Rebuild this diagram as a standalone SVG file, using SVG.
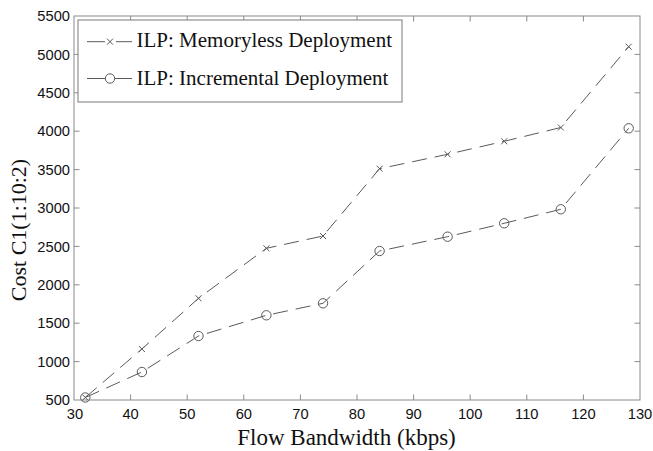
<svg xmlns="http://www.w3.org/2000/svg" width="653" height="451" viewBox="0 0 653 451">
  <style>
    .frame { fill: none; stroke: #8a8a8a; stroke-width: 1; }
    .tick { stroke: #8a8a8a; stroke-width: 1; }
    .tl { font-family: "Liberation Sans", Arial, sans-serif; font-size: 14.7px; fill: #111; }
    .al { font-family: "Liberation Serif", "Times New Roman", serif; fill: #111; }
    .series { fill: none; stroke: #5a5a5a; stroke-width: 1; stroke-dasharray: 15 8; }
    .solid { fill: none; stroke: #5a5a5a; stroke-width: 1; }
    .mk { fill: none; stroke: #5a5a5a; stroke-width: 1; }
  </style>
  <defs>
    <g id="xmark"><path d="M-3,-3 L3,3 M-3,3 L3,-3" class="mk"/></g>
    <circle id="omark" r="4.7" class="mk"/>
  </defs>
  <rect width="653" height="451" fill="#fff"/>

  <!-- axes frame and ticks -->
  <g id="axes">
    <rect class="frame" x="74" y="16" width="566" height="384"/>
    <g id="x-ticks">
      <path class="tick" d="M130.6,400v-5.5M187.2,400v-5.5M243.8,400v-5.5M300.4,400v-5.5M357,400v-5.5M413.6,400v-5.5M470.2,400v-5.5M526.8,400v-5.5M583.4,400v-5.5
                           M130.6,16v5.5M187.2,16v5.5M243.8,16v5.5M300.4,16v5.5M357,16v5.5M413.6,16v5.5M470.2,16v5.5M526.8,16v5.5M583.4,16v5.5"/>
    </g>
    <g id="y-ticks">
      <path class="tick" d="M74,361.6h5.5M74,323.2h5.5M74,284.8h5.5M74,246.4h5.5M74,208h5.5M74,169.6h5.5M74,131.2h5.5M74,92.8h5.5M74,54.4h5.5
                           M640,361.6h-5.5M640,323.2h-5.5M640,284.8h-5.5M640,246.4h-5.5M640,208h-5.5M640,169.6h-5.5M640,131.2h-5.5M640,92.8h-5.5M640,54.4h-5.5"/>
    </g>
    <g id="x-labels" class="tl" text-anchor="middle">
      <text x="75" y="418.5">30</text>
      <text x="130.6" y="418.5">40</text>
      <text x="187.2" y="418.5">50</text>
      <text x="243.8" y="418.5">60</text>
      <text x="300.4" y="418.5">70</text>
      <text x="357" y="418.5">80</text>
      <text x="413.6" y="418.5">90</text>
      <text x="470.2" y="418.5">100</text>
      <text x="526.8" y="418.5">110</text>
      <text x="583.4" y="418.5">120</text>
      <text x="640" y="418.5">130</text>
    </g>
    <g id="y-labels" class="tl" text-anchor="end">
      <text x="70" y="405.2">500</text>
      <text x="70" y="366.8">1000</text>
      <text x="70" y="328.4">1500</text>
      <text x="70" y="290">2000</text>
      <text x="70" y="251.6">2500</text>
      <text x="70" y="213.2">3000</text>
      <text x="70" y="174.8">3500</text>
      <text x="70" y="136.4">4000</text>
      <text x="70" y="98">4500</text>
      <text x="70" y="59.6">5000</text>
      <text x="70" y="21.2">5500</text>
    </g>
    <text id="x-title" class="al" font-size="23" x="346.5" y="445" text-anchor="middle">Flow Bandwidth (kbps)</text>
    <text id="y-title" class="al" font-size="22" text-anchor="middle" transform="translate(26,230) rotate(-90)">Cost C1(1:10:2)</text>
  </g>

  <!-- data series -->
  <g id="connectors">
    <polyline id="memoryless-line" class="series" points="85.3,397.5 141.9,349 198.5,298.3 266.4,248.3 323,236 379.6,168.7 447.6,154.3 504.2,141.3 560.8,127.5 628.7,46.7"/>
    <polyline id="incremental-line" class="series" points="85.3,397.5 141.9,372 198.5,336 266.4,315.3 323,303.3 379.6,251 447.6,236.7 504.2,223.3 560.8,209.3 628.7,128.3"/>
  </g>
  <g id="memoryless-markers">
    <use href="#xmark" x="85.3" y="397.5"/>
    <use href="#xmark" x="141.9" y="349"/>
    <use href="#xmark" x="198.5" y="298.3"/>
    <use href="#xmark" x="266.4" y="248.3"/>
    <use href="#xmark" x="323" y="236"/>
    <use href="#xmark" x="379.6" y="168.7"/>
    <use href="#xmark" x="447.6" y="154.3"/>
    <use href="#xmark" x="504.2" y="141.3"/>
    <use href="#xmark" x="560.8" y="127.5"/>
    <use href="#xmark" x="628.7" y="46.7"/>
  </g>
  <g id="incremental-markers">
    <use href="#omark" x="85.3" y="397.5"/>
    <use href="#omark" x="141.9" y="372"/>
    <use href="#omark" x="198.5" y="336"/>
    <use href="#omark" x="266.4" y="315.3"/>
    <use href="#omark" x="323" y="303.3"/>
    <use href="#omark" x="379.6" y="251"/>
    <use href="#omark" x="447.6" y="236.7"/>
    <use href="#omark" x="504.2" y="223.3"/>
    <use href="#omark" x="560.8" y="209.3"/>
    <use href="#omark" x="628.7" y="128.3"/>
  </g>

  <!-- legend -->
  <g id="legend">
    <rect x="78" y="20" width="324" height="82" fill="#fff" stroke="#7a7a7a" stroke-width="1"/>
    <path class="solid" d="M87,41.7H105M116,41.7H132"/>
    <use href="#xmark" x="110" y="41.7"/>
    <text class="al" font-size="21" x="136.5" y="46.5">ILP: Memoryless Deployment</text>
    <path class="solid" d="M87,78.5H105.5M114.5,78.5H132"/>
    <use href="#omark" x="110" y="78.5"/>
    <text class="al" font-size="21" x="136.5" y="85">ILP: Incremental Deployment</text>
  </g>
</svg>
